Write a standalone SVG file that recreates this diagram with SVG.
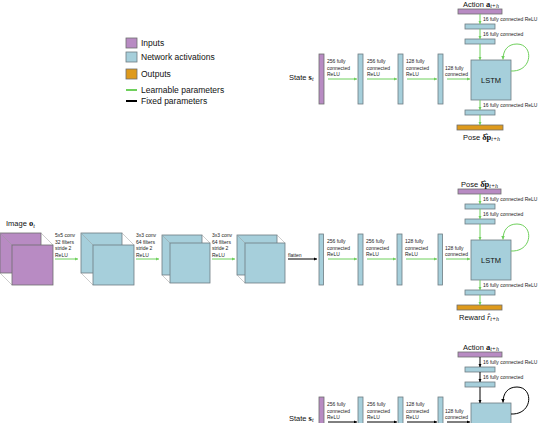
<svg xmlns="http://www.w3.org/2000/svg" width="541" height="423" viewBox="0 0 541 423">
<style>
.in{fill:#b88bc3;stroke:#6e6e6e;stroke-width:0.8}
.act{fill:#a6cfdb;stroke:#6e7c82;stroke-width:0.8}
.out{fill:#de9a1c;stroke:#6e6e6e;stroke-width:0.8}
.g{stroke:#6fd05c;stroke-width:1;fill:none;marker-end:url(#ag)}
.k{stroke:#000;stroke-width:1;fill:none;marker-end:url(#ak)}
.cl{stroke:#9a9a9a;stroke-width:0.5;fill:none}
.s{font-family:"Liberation Sans",Arial,sans-serif;font-size:5px;fill:#222}
.m{font-family:"Liberation Sans",Arial,sans-serif;font-size:7.5px;fill:#111}
.lg{font-family:"Liberation Sans",Arial,sans-serif;font-size:8.5px;fill:#111}
.b{font-family:"Liberation Serif","Times New Roman",serif;font-weight:bold;font-size:8.5px}
.i{font-family:"Liberation Serif","Times New Roman",serif;font-style:italic;font-size:6px}
</style>
<defs>
<marker id="ag" viewBox="0 0 6 6" refX="6" refY="3" markerWidth="3.5" markerHeight="3.5" orient="auto"><path d="M0,0 L6,3 L0,6 z" fill="#6fd05c"/></marker>
<marker id="ak" viewBox="0 0 6 6" refX="6" refY="3" markerWidth="3.5" markerHeight="3.5" orient="auto"><path d="M0,0 L6,3 L0,6 z" fill="#000"/></marker>
</defs>
<rect width="541" height="423" fill="#fff"/>

<!-- Legend -->
<g id="legend">
<rect class="in" x="126" y="38" width="11" height="10"/>
<text class="lg" x="141" y="46">Inputs</text>
<rect class="act" x="126" y="52" width="11" height="10"/>
<text class="lg" x="141" y="60">Network activations</text>
<rect class="out" x="126" y="69" width="11" height="10"/>
<text class="lg" x="141" y="77">Outputs</text>
<line x1="126" y1="90" x2="137" y2="90" stroke="#6fd05c" stroke-width="2"/>
<text class="lg" x="141" y="93">Learnable parameters</text>
<line x1="126" y1="101" x2="137" y2="101" stroke="#000" stroke-width="2"/>
<text class="lg" x="141" y="104">Fixed parameters</text>
</g>

<!-- ===== Top panel ===== -->
<g id="t-state"><rect class="in" x="319" y="54" width="5" height="50"/><text class="m" x="289" y="79.5">State <tspan class="b">s</tspan><tspan class="i" dy="1.5">t</tspan></text></g>
<g id="t-fc1"><rect class="act" x="358" y="54" width="5" height="50"/></g>
<g id="t-fc2"><rect class="act" x="398" y="54" width="5" height="50"/></g>
<g id="t-fc3"><rect class="act" x="438" y="54" width="5" height="50"/></g>
<g id="t-lstm"><rect class="act" x="471" y="60" width="40" height="40"/><text class="m" x="491" y="82.5" text-anchor="middle">LSTM</text></g>
<g id="t-action"><rect class="in" x="458" y="9" width="44" height="5"/><text class="m" x="463" y="6.5">Action <tspan class="b">a</tspan><tspan class="i" dy="1.5">t+h</tspan></text></g>
<g id="t-afc1"><rect class="act" x="465" y="24" width="30" height="5"/></g>
<g id="t-afc2"><rect class="act" x="465" y="39" width="30" height="5"/></g>
<g id="t-ofc"><rect class="act" x="465" y="110" width="30" height="5"/></g>
<g id="t-pose"><rect class="out" x="457" y="125" width="46" height="5"/><text class="m" x="463" y="139.5">Pose <tspan class="b">δ̂p</tspan><tspan class="i" dy="1.5">t+h</tspan></text></g>
<g id="t-connectors">
<path class="g" d="M328,79 H357"/>
<path class="g" d="M367,79 H397"/>
<path class="g" d="M407,79 H437"/>
<path class="g" d="M447,79 H470"/>
<path class="g" d="M480,14 V24"/>
<path class="g" d="M480,29 V39"/>
<path class="g" d="M480,44 V60"/>
<path class="g" d="M480,100 V110"/>
<path class="g" d="M480,115 V125"/>
<path class="g" d="M511,71 C533,72 534,44 517,44 C508,44 503,50 503,59.5"/>
<text class="s"><tspan x="327" y="63">256 fully</tspan><tspan x="327" y="69.5">connected</tspan><tspan x="327" y="76">ReLU</tspan></text>
<text class="s"><tspan x="367" y="63">256 fully</tspan><tspan x="367" y="69.5">connected</tspan><tspan x="367" y="76">ReLU</tspan></text>
<text class="s"><tspan x="406" y="63">128 fully</tspan><tspan x="406" y="69.5">connected</tspan><tspan x="406" y="76">ReLU</tspan></text>
<text class="s"><tspan x="445" y="69.5">128 fully</tspan><tspan x="445" y="76">connected</tspan></text>
<text class="s" x="483" y="21">16 fully connected ReLU</text>
<text class="s" x="483" y="36">16 fully connected</text>
<text class="s" x="483" y="107">16 fully connected ReLU</text>
</g>

<!-- ===== Middle panel ===== -->
<g id="m-image">
<rect class="in" x="0" y="233" width="41" height="40"/>
<line class="cl" x1="0" y1="233" x2="12" y2="245"/><line class="cl" x1="41" y1="233" x2="53" y2="245"/><line class="cl" x1="0" y1="273" x2="12" y2="285"/>
<rect class="in" x="12" y="245" width="41" height="40"/>
<text class="m" x="6" y="226">Image <tspan class="b">o</tspan><tspan class="i" dy="1.5">t</tspan></text>
</g>
<g id="m-conv1">
<rect class="act" x="81" y="233" width="41" height="40"/>
<line class="cl" x1="81" y1="233" x2="93" y2="245"/><line class="cl" x1="122" y1="233" x2="134" y2="245"/><line class="cl" x1="81" y1="273" x2="93" y2="285"/>
<rect class="act" x="93" y="245" width="41" height="40"/>
</g>
<g id="m-conv2">
<rect class="act" x="162" y="235" width="40" height="40"/>
<line class="cl" x1="162" y1="235" x2="170" y2="243"/><line class="cl" x1="202" y1="235" x2="210" y2="243"/><line class="cl" x1="162" y1="275" x2="170" y2="283"/>
<rect class="act" x="170" y="243" width="40" height="40"/>
</g>
<g id="m-conv3">
<rect class="act" x="237" y="235" width="40" height="40"/>
<line class="cl" x1="237" y1="235" x2="245" y2="243"/><line class="cl" x1="277" y1="235" x2="285" y2="243"/><line class="cl" x1="237" y1="275" x2="245" y2="283"/>
<rect class="act" x="245" y="243" width="40" height="40"/>
</g>
<g id="m-flat"><rect class="act" x="319" y="234" width="4.5" height="51"/></g>
<g id="m-fc1"><rect class="act" x="358" y="234" width="5" height="51"/></g>
<g id="m-fc2"><rect class="act" x="397" y="234" width="5" height="51"/></g>
<g id="m-fc3"><rect class="act" x="438" y="234" width="4.5" height="51"/></g>
<g id="m-lstm"><rect class="act" x="471" y="240" width="40" height="40"/><text class="m" x="491" y="262.5" text-anchor="middle">LSTM</text></g>
<g id="m-pose"><rect class="in" x="458" y="189" width="43" height="5"/><text class="m" x="461" y="186.5">Pose <tspan class="b">δ̂p</tspan><tspan class="i" dy="1.5">t+h</tspan></text></g>
<g id="m-afc1"><rect class="act" x="465" y="204" width="30" height="5"/></g>
<g id="m-afc2"><rect class="act" x="465" y="219" width="30" height="5"/></g>
<g id="m-ofc"><rect class="act" x="465" y="290" width="30" height="5"/></g>
<g id="m-reward"><rect class="out" x="457" y="305" width="45" height="5"/><text class="m" x="459" y="319.5">Reward <tspan font-family="Liberation Serif,serif" font-style="italic" font-size="8.5px">r̂</tspan><tspan class="i" dy="1.5">t+h</tspan></text></g>
<g id="m-connectors">
<path class="g" d="M55,259 H78"/>
<path class="g" d="M136,259 H159"/>
<path class="g" d="M212,259 H235"/>
<path class="k" d="M288,259 H317"/>
<path class="g" d="M328,259 H357"/>
<path class="g" d="M367,259 H396"/>
<path class="g" d="M406,259 H437"/>
<path class="g" d="M446,259 H470"/>
<path class="g" d="M480,194 V204"/>
<path class="g" d="M480,209 V219"/>
<path class="g" d="M480,224 V240"/>
<path class="g" d="M480,280 V290"/>
<path class="g" d="M480,295 V305"/>
<path class="g" d="M511,251 C533,252 534,224 517,224 C508,224 503,230 503,239.5"/>
<text class="s"><tspan x="55" y="237">5x5 conv</tspan><tspan x="55" y="243.5">32 filters</tspan><tspan x="55" y="250">stride 2</tspan><tspan x="55" y="256.5">ReLU</tspan></text>
<text class="s"><tspan x="136" y="237">3x3 conv</tspan><tspan x="136" y="243.5">64 filters</tspan><tspan x="136" y="250">stride 2</tspan><tspan x="136" y="256.5">ReLU</tspan></text>
<text class="s"><tspan x="212" y="237">3x3 conv</tspan><tspan x="212" y="243.5">64 filters</tspan><tspan x="212" y="250">stride 2</tspan><tspan x="212" y="256.5">ReLU</tspan></text>
<text class="s" x="288" y="257">flatten</text>
<text class="s"><tspan x="327" y="243">256 fully</tspan><tspan x="327" y="249.5">connected</tspan><tspan x="327" y="256">ReLU</tspan></text>
<text class="s"><tspan x="366" y="243">256 fully</tspan><tspan x="366" y="249.5">connected</tspan><tspan x="366" y="256">ReLU</tspan></text>
<text class="s"><tspan x="405" y="243">128 fully</tspan><tspan x="405" y="249.5">connected</tspan><tspan x="405" y="256">ReLU</tspan></text>
<text class="s"><tspan x="445" y="249.5">128 fully</tspan><tspan x="445" y="256">connected</tspan></text>
<text class="s" x="483" y="201">16 fully connected ReLU</text>
<text class="s" x="483" y="216">16 fully connected</text>
<text class="s" x="483" y="287">16 fully connected ReLU</text>
</g>

<!-- ===== Bottom panel ===== -->
<g id="b-state"><rect class="in" x="319" y="397" width="5" height="50"/><text class="m" x="289" y="420.5">State <tspan class="b">s</tspan><tspan class="i" dy="1">t</tspan></text></g>
<g id="b-fc1"><rect class="act" x="358" y="397" width="5" height="50"/></g>
<g id="b-fc2"><rect class="act" x="398" y="397" width="5" height="50"/></g>
<g id="b-fc3"><rect class="act" x="438" y="397" width="5" height="50"/></g>
<g id="b-lstm"><rect class="act" x="471" y="403" width="40" height="40"/></g>
<g id="b-action"><rect class="in" x="458" y="352" width="44" height="5"/><text class="m" x="463" y="349.5">Action <tspan class="b">a</tspan><tspan class="i" dy="1.5">t+h</tspan></text></g>
<g id="b-afc1"><rect class="act" x="465" y="367" width="30" height="5"/></g>
<g id="b-afc2"><rect class="act" x="465" y="382" width="30" height="5"/></g>
<g id="b-connectors">
<path class="k" d="M328,422 H357"/>
<path class="k" d="M367,422 H397"/>
<path class="k" d="M407,422 H437"/>
<path class="k" d="M447,422 H470"/>
<path class="k" d="M480,357 V367"/>
<path class="k" d="M480,372 V382"/>
<path class="k" d="M480,387 V403"/>
<path class="k" d="M511,414 C533,415 534,387 517,387 C508,387 503,393 503,402.5"/>
<text class="s"><tspan x="327" y="406">256 fully</tspan><tspan x="327" y="412.5">connected</tspan><tspan x="327" y="419">ReLU</tspan></text>
<text class="s"><tspan x="367" y="406">256 fully</tspan><tspan x="367" y="412.5">connected</tspan><tspan x="367" y="419">ReLU</tspan></text>
<text class="s"><tspan x="406" y="406">128 fully</tspan><tspan x="406" y="412.5">connected</tspan><tspan x="406" y="419">ReLU</tspan></text>
<text class="s"><tspan x="445" y="412.5">128 fully</tspan><tspan x="445" y="419">connected</tspan></text>
<text class="s" x="483" y="364">16 fully connected ReLU</text>
<text class="s" x="483" y="379">16 fully connected</text>
</g>
</svg>
